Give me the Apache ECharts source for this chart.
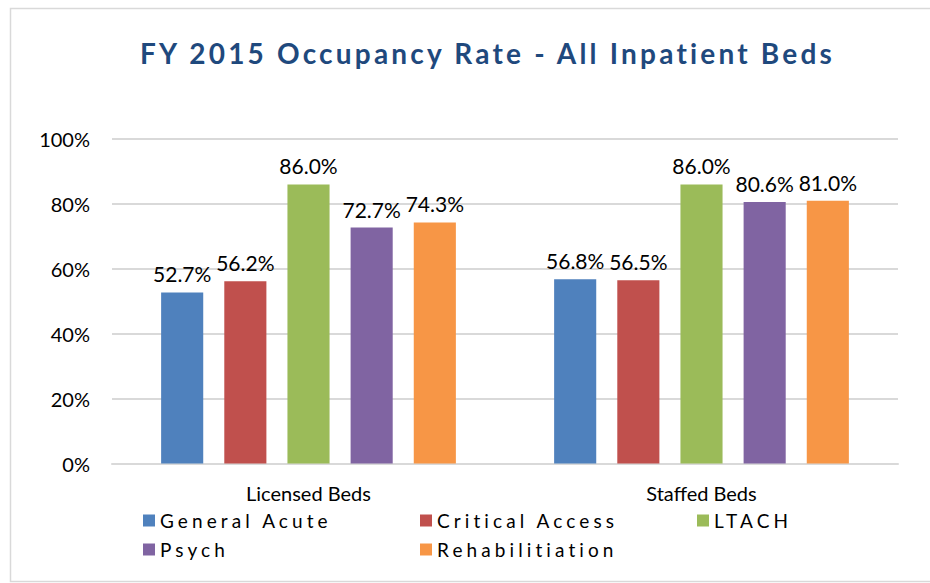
<!DOCTYPE html>
<html>
<head>
<meta charset="utf-8">
<script src="https://cdn.jsdelivr.net/npm/echarts@6/dist/echarts.min.js"></script>
<style>
  html, body { margin: 0; padding: 0; background: #fff; }
  #chart { width: 930px; height: 583px; }
  text[style*="TitleSp"], text[font-family*="TitleSp"] { letter-spacing: 3.2px; }
  text[style*="LegendSp"], text[font-family*="LegendSp"] { letter-spacing: 4.1px; }
</style>
</head>
<body>
<div id="chart"></div>
<script>
const titleText = 'FY 2015 Occupancy Rate - All Inpatient Beds';
const categories = ['Licensed Beds', 'Staffed Beds'];
const seriesNames = ['General Acute', 'Critical Access', 'LTACH', 'Psych', 'Rehabilitiation'];
const generalAcute = [52.7, 56.8];
const criticalAccess = [56.2, 56.5];
const ltach = [86.0, 86.0];
const psych = [72.7, 80.6];
const rehabilitation = [74.3, 81.0];
const yTicks = [0, 20, 40, 60, 80, 100];

const seriesValues = [generalAcute, criticalAccess, ltach, psych, rehabilitation];
const colors = ['#4F81BD', '#C0504D', '#9BBB59', '#8064A2', '#F79646'];

const chart = echarts.init(document.getElementById('chart'), null, { renderer: 'svg' });
chart.setOption({
  animation: false,
  color: colors,
  title: {
    text: titleText,
    left: 140,
    top: 39,
    padding: 0,
    textStyle: { fontFamily: 'Lato, TitleSp', fontWeight: 'bold', fontSize: 28, color: '#1F497D' }
  },
  graphic: [{
    type: 'rect',
    shape: { x: 10.5, y: 8.5, width: 940, height: 573 },
    style: { fill: 'none', stroke: '#D9D9D9', lineWidth: 1.5 },
    silent: true
  }],
  legend: {
    data: seriesNames,
    left: 143,
    top: 506,
    padding: 0,
    width: 840,
    itemGap: 0,
    itemWidth: 12,
    itemHeight: 12,
    icon: 'rect',
    textStyle: { fontFamily: 'Lato, LegendSp', fontSize: 19, color: '#000', width: 260, lineHeight: 29 }
  },
  grid: { left: 112, right: 32, top: 139, bottom: 119.5, containLabel: false },
  xAxis: {
    type: 'category',
    data: categories,
    axisTick: { show: false },
    axisLine: { lineStyle: { color: '#D9D9D9', width: 2 } },
    axisLabel: { fontFamily: 'Lato', fontSize: 20, color: '#000', margin: 19 }
  },
  yAxis: {
    type: 'value',
    min: yTicks[0],
    max: yTicks[yTicks.length - 1],
    interval: 20,
    axisLine: { show: false },
    axisTick: { show: false },
    splitLine: { lineStyle: { color: '#D9D9D9', width: 2 } },
    axisLabel: { fontFamily: 'Lato', fontSize: 20, color: '#000', margin: 22, formatter: '{value}%' }
  },
  series: seriesNames.map((name, i) => ({
    name: name,
    type: 'bar',
    data: seriesValues[i],
    barGap: '50%',
    barCategoryGap: '25%',
    label: {
      show: true,
      position: 'top',
      distance: 8,
      fontFamily: 'Lato',
      fontSize: 21,
      color: '#000',
      formatter: p => p.value.toFixed(1) + '%'
    }
  }))
});
</script>
</body>
</html>
